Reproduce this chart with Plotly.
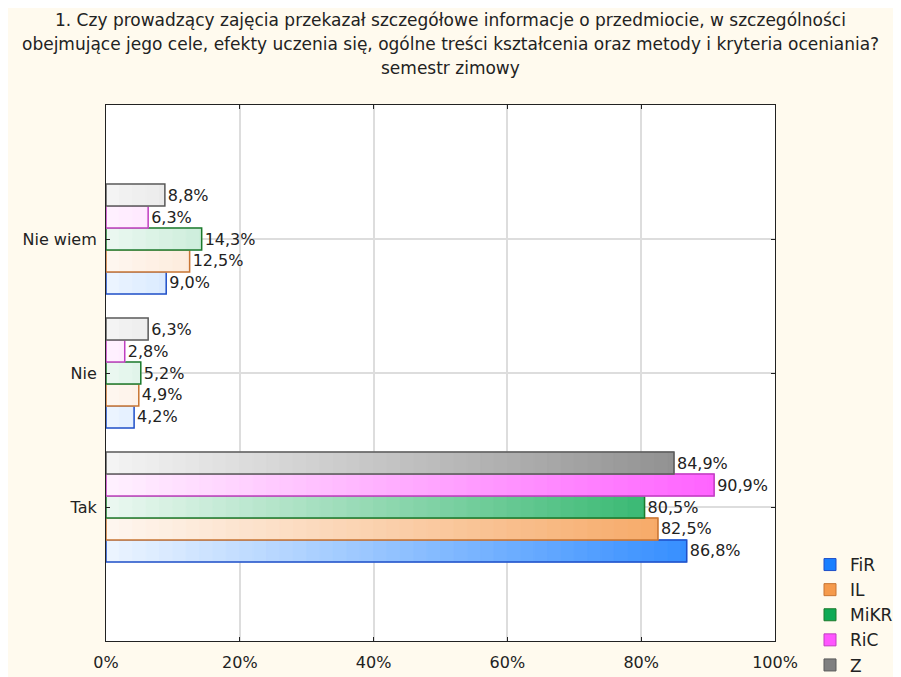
import plotly.graph_objects as go

# dane
kategorie = ["Tak", "Nie", "Nie wiem"]
serie = ["FiR", "IL", "MiKR", "RiC", "Z"]
fir = [86.8, 4.2, 9.0]
il = [82.5, 4.9, 12.5]
mikr = [80.5, 5.2, 14.3]
ric = [90.9, 2.8, 6.3]
z = [84.9, 6.3, 8.8]
wartosci = [fir, il, mikr, ric, z]

kolory = ["#1A7FFF", "#F59A4C", "#0FAA55", "#FF55FF", "#808080"]
obrysy = ["#1F4FC8", "#C87533", "#1C7A2C", "#C03FC0", "#5A5A5A"]

tytul = [
    "1. Czy prowadzący zajęcia przekazał szczegółowe informacje o przedmiocie, w szczególności",
    "obejmujące jego cele, efekty uczenia się, ogólne treści kształcenia oraz metody i kryteria oceniania?",
    "semestr zimowy",
]

KROK = 2  # szerokość segmentu gradientu (w %)
FONT = "DejaVu Sans, Verdana, sans-serif"

# obszar wykresu na zrzucie (piksele) – strona ma margines 8 px
L, R, T, B = 106, 775, 105, 641
OFF = 8
W, H = 901, 677


def mieszaj(hex_kolor, t):
    r, g, b = (int(hex_kolor[i:i + 2], 16) for i in (1, 3, 5))
    r = round(255 + (r - 255) * t)
    g = round(255 + (g - 255) * t)
    b = round(255 + (b - 255) * t)
    return f"rgb({r},{g},{b})"


fig = go.Figure()

for nazwa, vals, kol, obr in zip(serie, wartosci, kolory, obrysy):
    # gradient: paski podzielone na segmenty o rosnącym nasyceniu
    for k in range(0, 100, KROK):
        dl = [min(v - k, KROK) if v > k else None for v in vals]
        if all(d is None for d in dl):
            continue
        c = mieszaj(kol, 0.08 + 0.92 * (k + KROK / 2) / 100)
        fig.add_trace(go.Bar(
            y=kategorie, x=dl, base=[k] * len(vals), orientation="h",
            offsetgroup=nazwa, showlegend=False, hoverinfo="skip",
            marker=dict(color=c, line=dict(width=1, color=c)),
        ))
    # obrys + etykiety
    fig.add_trace(go.Bar(
        y=kategorie, x=vals, orientation="h", offsetgroup=nazwa,
        showlegend=False,
        marker=dict(color="rgba(0,0,0,0)", line=dict(color=obr, width=1.5)),
        text=vals, texttemplate="%{x:.1f}%", textposition="outside",
        textfont=dict(size=16, color="#222222"), cliponaxis=False,
    ))
    # wpis legendy
    fig.add_trace(go.Bar(
        y=[None], x=[None], orientation="h", offsetgroup=nazwa, name=nazwa,
        marker=dict(color=kol, line=dict(color=obr, width=1)),
    ))

# tytuł jako trzy wiersze
for i, wiersz in enumerate(tytul):
    fig.add_annotation(
        text=wiersz, xref="paper", yref="paper",
        x=(450 - L) / (R - L), y=1 + (T - (20 + 24 * i)) / (B - T),
        xanchor="center", yanchor="middle", showarrow=False,
        font=dict(size=17, color="#222222", family=FONT),
    )

fig.update_layout(
    width=W, height=H,
    barmode="group", bargap=0.18, bargroupgap=0,
    separators=", ",
    paper_bgcolor="#FFFAEE", plot_bgcolor="white",
    font=dict(family=FONT, size=16, color="#222222"),
    margin=dict(l=L - OFF, r=W - (R - OFF), t=T - OFF, b=H - (B - OFF), autoexpand=False),
    showlegend=True,
    legend=dict(x=(810 - L) / (R - L), xanchor="left", y=(B - 547) / (B - T), yanchor="top",
                bgcolor="rgba(0,0,0,0)", font=dict(size=17), traceorder="normal",
                tracegroupgap=0),
    xaxis=dict(range=[0, 100], dtick=20, ticksuffix="%", showgrid=True,
               gridcolor="#DDDDDD", gridwidth=1.5, zeroline=False,
               showline=True, linecolor="#222222", linewidth=1, mirror="ticks",
               ticks="inside", ticklen=4, tickcolor="#222222", ticklabelstandoff=7),
    yaxis=dict(type="category", range=[-1, 3], showgrid=True,
               gridcolor="#DDDDDD", gridwidth=1.5, zeroline=False,
               showline=True, linecolor="#222222", linewidth=1, mirror="ticks",
               ticks="inside", ticklen=4, tickcolor="#222222", ticklabelstandoff=5),
)

fig.write_html("out.html")
